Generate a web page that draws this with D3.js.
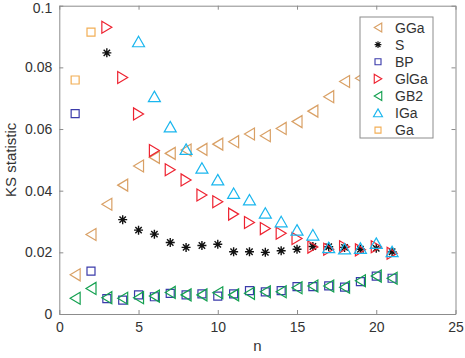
<!DOCTYPE html>
<html><head><meta charset="utf-8">
<script src="https://cdn.jsdelivr.net/npm/d3@7"></script>
<style>body{margin:0;background:#fff}svg{display:block}text{font-family:"Liberation Sans",Arial,sans-serif}</style>
</head><body><svg id="c" width="465" height="358"></svg>
<script>
const nGGa = [1,2,3,4,5,6,7,8,9,10,11,12,13,14,15,16,17,18,19,20,21];
const GGa = [0.0127,0.0258,0.0356,0.0418,0.048,0.0508,0.0521,0.0532,0.0534,0.0551,0.0559,0.0584,0.0578,0.0602,0.0624,0.0658,0.0705,0.0754,0.0765,0.079,0.081];
const nS = [3,4,5,6,7,8,9,10,11,12,13,14,15,16,17,18,19,20,21];
const S = [0.0847,0.0306,0.0272,0.0259,0.0232,0.0216,0.0222,0.0226,0.0202,0.0202,0.02,0.0205,0.021,0.0219,0.0218,0.0216,0.021,0.0213,0.0202];
const nBP = [1,2,3,4,5,6,7,8,9,10,11,12,13,14,15,16,17,18,19,20,21];
const BP = [0.065,0.0139,0.005,0.0045,0.0062,0.0056,0.0067,0.0062,0.0065,0.0058,0.0065,0.0076,0.0072,0.0076,0.0089,0.0089,0.0091,0.0087,0.0105,0.0123,0.0116];
const nGlGa = [3,4,5,6,7,8,9,10,11,12,13,14,15,16,17,18,19,20,21];
const GlGa = [0.093,0.0767,0.0649,0.053,0.0468,0.0435,0.0386,0.0364,0.0324,0.0297,0.0277,0.0262,0.0245,0.0217,0.021,0.0218,0.0208,0.0218,0.0197];
const nGB2 = [1,2,3,4,5,6,7,8,9,10,11,12,13,14,15,16,17,18,19,20,21];
const GB2 = [0.0051,0.0083,0.0053,0.0051,0.0053,0.0058,0.007,0.0062,0.0062,0.0069,0.0062,0.0067,0.0072,0.0072,0.0085,0.0091,0.0091,0.0087,0.0108,0.0123,0.0116];
const nIGa = [5,6,7,8,9,10,11,12,13,14,15,16,17,18,19,20,21];
const IGa = [0.0883,0.0705,0.0607,0.0534,0.0473,0.0435,0.0391,0.037,0.0327,0.0299,0.0272,0.0256,0.0215,0.0211,0.0213,0.0229,0.0202];
const nGa = [1,2];
const Ga = [0.0759,0.0914];
const xTicks = [0,5,10,15,20,25];
const yTicks = [0,0.02,0.04,0.06,0.08,0.1];
const yTickLabels = ["0","0.02","0.04","0.06","0.08","0.1"];

const series = [
  {name:"GGa", n:nGGa, v:GGa, shape:"left", color:"#D9A065"},
  {name:"S", n:nS, v:S, shape:"star", color:"#111111"},
  {name:"BP", n:nBP, v:BP, shape:"square", color:"#3B3BAA"},
  {name:"GlGa", n:nGlGa, v:GlGa, shape:"right", color:"#EE2230"},
  {name:"GB2", n:nGB2, v:GB2, shape:"left", color:"#14A050"},
  {name:"IGa", n:nIGa, v:IGa, shape:"up", color:"#1AB6EE"},
  {name:"Ga", n:nGa, v:Ga, shape:"square", color:"#F2AE55"}
];

const L=59.3, R=455.5, T=5.7, B=314;
const svg = d3.select("#c");
const x = d3.scaleLinear().domain([0,25]).range([L,R]);
const y = d3.scaleLinear().domain([0,0.1]).range([B,T]);
const axisCol = "#8c8c8c", textCol = "#333";

function markerPath(shape){
  switch(shape){
    case "left": return "M-5,0L5,-6L5,6Z";
    case "right": return "M5,0L-5,-6L-5,6Z";
    case "up": return "M0,-5.5L6,5L-6,5Z";
    case "square": return "M-4,-4H4V4H-4Z";
    case "star": return "M-4.5,0H4.5M0,-4.5V4.5M-3.2,-3.2L3.2,3.2M-3.2,3.2L3.2,-3.2";
  }
}

// axes
const gx = svg.append("g").attr("transform",`translate(0,${B})`)
  .call(d3.axisBottom(x).tickValues(xTicks).tickSizeInner(-4).tickSizeOuter(0).tickPadding(8));
const gy = svg.append("g").attr("transform",`translate(${L},0)`)
  .call(d3.axisLeft(y).tickValues(yTicks).tickFormat((d,i)=>yTickLabels[i]).tickSizeInner(-4).tickSizeOuter(0).tickPadding(7));
const gx2 = svg.append("g").attr("transform",`translate(0,${T})`)
  .call(d3.axisTop(x).tickValues(xTicks).tickSizeInner(-4).tickSizeOuter(0).tickFormat(""));
const gy2 = svg.append("g").attr("transform",`translate(${R},0)`)
  .call(d3.axisRight(y).tickValues(yTicks).tickSizeInner(-4).tickSizeOuter(0).tickFormat(""));
[gx,gy,gx2,gy2].forEach(g=>{
  g.selectAll("path.domain").attr("stroke",axisCol).attr("stroke-width",1);
  g.selectAll(".tick line").attr("stroke",axisCol);
  g.selectAll(".tick text").attr("fill",textCol).style("font-size","14px").style("font-family","'Liberation Sans',Arial,sans-serif");
});
// keep the top label fully inside the picture
gy.selectAll(".tick text").filter(d=>d===0.1).attr("dy","0.5em");

svg.append("text").attr("x",(L+R)/2).attr("y",351).attr("text-anchor","middle")
  .attr("fill",textCol).style("font-size","15px").text("n");
svg.append("text").attr("transform",`translate(16,${(T+B)/2}) rotate(-90)`).attr("text-anchor","middle")
  .attr("fill",textCol).style("font-size","15px").text("KS statistic");

// data
const plot = svg.append("g");
series.forEach(s=>{
  plot.append("g").selectAll("path").data(s.n.map((n,i)=>[n,s.v[i]])).join("path")
    .attr("transform",d=>`translate(${x(d[0])},${y(d[1])})`)
    .attr("d",markerPath(s.shape)).attr("fill","none")
    .attr("stroke",s.color).attr("stroke-width",s.shape==="star"?1.4:1.2);
});

// legend
const lg = svg.append("g");
lg.append("rect").attr("x",360).attr("y",17).attr("width",73).attr("height",121)
  .attr("fill","#fff").attr("stroke",axisCol).attr("stroke-width",1);
series.forEach((s,i)=>{
  const yy = 27.5 + i*17.1;
  lg.append("path").attr("transform",`translate(378,${yy}) scale(0.75)`).attr("d",markerPath(s.shape))
    .attr("fill","none").attr("stroke",s.color).attr("stroke-width",1.5);
  lg.append("text").attr("x",395).attr("y",yy+5).attr("fill",textCol).style("font-size","14px").text(s.name);
});
</script></body></html>
